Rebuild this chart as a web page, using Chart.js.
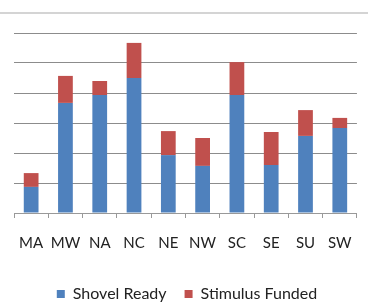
<!DOCTYPE html>
<html>
<head>
<meta charset="utf-8">
<script src="https://cdn.jsdelivr.net/npm/chart.js@4"></script>
<style>
    html, body { margin: 0; padding: 0; background: #fff; overflow: hidden; }
    #wrap { position: relative; width: 368px; height: 302px; overflow: hidden; }
    #frame { position: absolute; left: 0; top: 12px; width: 368px; border-top: 2px solid #d4d4d4; }
    canvas { position: absolute; left: 0; top: 0; }
</style>
</head>
<body>
<div id="wrap">
    <div id="frame"></div>
    <canvas id="canvas" width="368" height="312"></canvas>
</div>
<script>
const regions = ['MA', 'MW', 'NA', 'NC', 'NE', 'NW', 'SC', 'SE', 'SU', 'SW'];
const shovelReady = [0.87, 3.67, 3.93, 4.5, 1.93, 1.57, 3.93, 1.6, 2.57, 2.83];
const stimulusFunded = [0.46, 0.9, 0.47, 1.17, 0.8, 0.93, 1.1, 1.1, 0.86, 0.34];

const tickFont = {family: 'Lato, "Open Sans", sans-serif', size: 15};
const legendFont = {family: 'Lato, "Open Sans", sans-serif', size: 16};

const ctx = document.getElementById('canvas');
new Chart(ctx, {
    type: 'bar',
    data: {
        labels: regions,
        datasets: [{
            label: 'Shovel Ready',
            data: shovelReady,
            backgroundColor: '#4f81bd',
            barPercentage: 0.43,
            categoryPercentage: 1
        }, {
            label: 'Stimulus Funded',
            data: stimulusFunded,
            backgroundColor: '#c0504d',
            barPercentage: 0.43,
            categoryPercentage: 1
        }]
    },
    options: {
        responsive: false,
        animation: false,
        layout: {
            padding: {top: 33, left: 14, right: 8, bottom: 0}
        },
        plugins: {
            legend: {
                position: 'bottom',
                labels: {
                    font: legendFont,
                    color: '#222',
                    boxWidth: 8,
                    boxHeight: 8,
                    padding: 18
                }
            },
            tooltip: {enabled: false}
        },
        scales: {
            x: {
                stacked: true,
                grid: {
                    drawOnChartArea: false,
                    drawTicks: true,
                    tickLength: 5,
                    color: '#999'
                },
                border: {color: '#999'},
                ticks: {font: tickFont, color: '#222', padding: 16, maxRotation: 0, autoSkip: false}
            },
            y: {
                stacked: true,
                min: 0,
                max: 6,
                ticks: {display: false, stepSize: 1},
                grid: {color: '#8c8c8c', drawTicks: false},
                border: {display: false}
            }
        }
    }
});
</script>
</body>
</html>
